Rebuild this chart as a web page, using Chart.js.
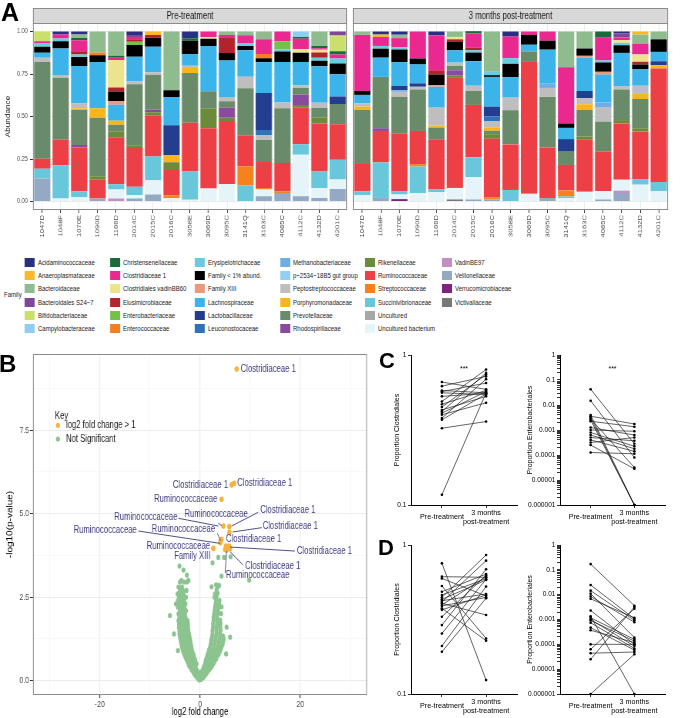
<!DOCTYPE html>
<html>
<head>
<meta charset="utf-8">
<title>Gut microbiota before and after treatment</title>
<script src="https://cdn.jsdelivr.net/npm/chart.js@4.4.1/dist/chart.umd.min.js"></script>
<style>
  html, body { margin: 0; padding: 0; background: #fff; }
  body { position: relative; width: 681px; height: 718px; overflow: hidden;
         font-family: "Liberation Sans", Arial, sans-serif; color: #000; }
  canvas { position: absolute; }
  .tag { position: absolute; font-weight: bold; line-height: 1; }
  #legend { position: absolute; left: 0; top: 250px; width: 885px; height: 90px;
            transform: scaleX(0.77); transform-origin: 0 0; }
  #legend div { position: absolute; white-space: nowrap; }
  .key-name { font-size: 7.8px; line-height: 9px; color: #1a1a1a; }
</style>
</head>
<body>
<canvas id="preChart"></canvas>
<canvas id="postChart"></canvas>
<div id="legend"></div>
<canvas id="volcanoChart"></canvas>
<canvas id="cloC"></canvas>
<canvas id="entC"></canvas>
<canvas id="cloD"></canvas>
<canvas id="entD"></canvas>
<div class="tag" style="left:1px;top:0px;font-size:25px">A</div>
<div class="tag" style="left:-1px;top:352px;font-size:24px">B</div>
<div class="tag" style="left:379px;top:350px;font-size:22px">C</div>
<div class="tag" style="left:378px;top:537px;font-size:22px">D</div>
<script>
"use strict";

// panels A and B of the original are squeezed horizontally
const SX = 0.77;

const samples = ["1047D", "1048F", "1070E", "1090D", "1166D", "2014C", "2015C", "2016C", "3058E",
  "3069D", "3095C", "3141Q", "3163C", "4085C", "4112C", "4132D", "4201C"];
const panelTitles = ["Pre-treatment", "3 months post-treatment"];

const families = ["Acidaminococcaceae", "Anaeroplasmataceae", "Bacteroidaceae", "Bacteroidales S24\u22127",
  "Bifidobacteriaceae", "Campylobacteraceae", "Christensenellaceae", "Clostridiaceae 1",
  "Clostridiales vadinBB60", "Elusimicrobiaceae", "Enterobacteriaceae", "Enterococcaceae",
  "Erysipelotrichaceae", "Family < 1% abund.", "Family XIII", "Lachnospiraceae",
  "Lactobacillaceae", "Leuconostocaceae", "Methanobacteriaceae", "p\u22122534\u221218B5 gut group",
  "Peptostreptococcaceae", "Porphyromonadaceae", "Prevotellaceae", "Rhodospirillaceae",
  "Rikenellaceae", "Ruminococcaceae", "Streptococcaceae", "Succinivibrionaceae",
  "Uncultured", "Uncultured bacterium", "VadinBE97", "Veillonellaceae",
  "Verrucomicrobiaceae", "Victivallaceae"];
const familyKeys = ["Acid", "Anae", "Bact", "S247", "Bifi", "Camp", "Chri", "Clo1", "CvBB", "Elus",
  "Entb", "Entc", "Erys", "F1pc", "FXIII", "Lach", "Lact", "Leuc", "Meth", "p253", "Pept", "Porp",
  "Prev", "Rhod", "Rike", "Rumi", "Stre", "Succ", "Uncu", "UnBa", "VBE9", "Veil", "Verr", "Vict"];
const familyColours = ["#2b2f83", "#fbb829", "#8fbc8f", "#7e479a", "#cbdf6c", "#8fcdf1", "#1b6a3a",
  "#e9298f", "#ece48c", "#b3232b", "#74c04b", "#f47e22", "#67cce0", "#000000", "#ea9a7b", "#3cb4ea",
  "#233d8f", "#2e73b9", "#6faee4", "#92d0f3", "#bebebe", "#fbb41a", "#698b69", "#8a4b9e", "#6c8b3a",
  "#ed3f46", "#f5821f", "#68c7da", "#a7a7a7", "#e5f4f8", "#c48fc3", "#93a9c4", "#7e2381", "#787878"];

const abundanceTicks = [0, 0.25, 0.5, 0.75, 1];
const abundanceMinor = [0.125, 0.375, 0.625, 0.875];

// relative abundance per sample, one record per bar
const preTreatment = [
  { Veil: .135, Succ: .058, Rumi: .058, Prev: .57, Pept: .024, Lach: .03, F1pc: .035, Erys: .02, Clo1: .012, Bifi: .058 },
  { UnBa: .018, Succ: .195, Rumi: .15, Prev: .365, Pept: .016, Lach: .156, F1pc: .043, Erys: .016, Clo1: .023, Acid: .018 },
  { UnBa: .027, Succ: .033, Rumi: .257, Rhod: .016, Prev: .205, Porp: .01, Pept: .029, Lach: .22, F1pc: .053, Erys: .014, Elus: .02, Clo1: .064, Chri: .014, Bact: .02, Acid: .018 },
  { Veil: .018, Rumi: .11, Rike: .02, Prev: .345, Porp: .055, Lach: .273, F1pc: .039, Entc: .016, Bact: .124 },
  { VBE9: .018, UnBa: .053, Succ: .03, Rumi: .277, Rike: .035, Prev: .039, Porp: .023, Lach: .094, FXIII: .02, F1pc: .058, Elus: .023, CvBB: .162, Clo1: .014, Chri: .012, Bact: .142 },
  { Veil: .018, UnBa: .02, Succ: .049, Rumi: .228, Rike: .016, Prev: .359, Pept: .016, Lach: .146, F1pc: .068, Entb: .02, Elus: .014, Clo1: .014, S247: .012, Acid: .02 },
  { Veil: .041, UnBa: .084, Succ: .14, Rumi: .24, Rike: .02, Rhod: .014, Prev: .205, Pept: .016, Lach: .15, F1pc: .053, Elus: .016, Anae: .021 },
  { UnBa: .02, Stre: .016, Rumi: .15, Rike: .045, Porp: .043, Lact: .175, Lach: .166, F1pc: .039, Bact: .346 },
  { UnBa: .01, Succ: .166, Rumi: .287, Prev: .293, Porp: .03, Pept: .012, Lach: .07, F1pc: .078, Chri: .014, Acid: .04 },
  { UnBa: .076, Rumi: .355, Rike: .117, Prev: .101, Lach: .265, F1pc: .043, CvBB: .01, Clo1: .033 },
  { UnBa: .103, Rumi: .37, Rike: .02, Rhod: .058, Prev: .039, Pept: .025, Lach: .214, F1pc: .045, Elus: .092, Clo1: .014, Bact: .02 },
  { Succ: .094, Stre: .113, Rumi: .18, Prev: .279, Pept: .068, Lach: .156, F1pc: .025, Erys: .014, Clo1: .049, Bact: .022 },
  { Veil: .031, UnBa: .039, Stre: .01, Rumi: .152, Prev: .13, Pept: .029, Leuc: .029, Lact: .218, Lach: .181, F1pc: .023, Entc: .025, Clo1: .088, Bact: .045 },
  { Veil: .05, Stre: .01, Rumi: .166, Prev: .322, Pept: .035, Lach: .238, F1pc: .062, Erys: .012, Entb: .047, Clo1: .058 },
  { Veil: .031, UnBa: .244, Succ: .062, Rumi: .214, Rike: .016, Rhod: .062, Prev: .039, Pept: .016, Lach: .136, F1pc: .055, CvBB: .02, Clo1: .062, Chri: .01, Camp: .033 },
  { Veil: .021, UnBa: .058, Succ: .097, Rumi: .283, Rike: .033, Prev: .058, Pept: .031, Lach: .214, F1pc: .033, Erys: .018, Elus: .031, CvBB: .016, Clo1: .009, Chri: .012, Bact: .086 },
  { Veil: .074, UnBa: .055, Succ: .117, Rumi: .209, Prev: .119, Lact: .043, Lach: .131, F1pc: .064, Erys: .029, Clo1: .023, Chri: .02, Bifi: .093, S247: .023 },
];
const postTreatment = [
  { UnBa: .037, Succ: .023, Rumi: .166, Prev: .312, Porp: .02, Pept: .02, Lach: .049, F1pc: .023, Clo1: .33, Bact: .02 },
  { Veil: .021, Succ: .209, Rumi: .185, Rhod: .016, Prev: .302, Lach: .113, F1pc: .053, Erys: .016, Clo1: .053, Anae: .014, Acid: .018 },
  { Verr: .014, UnBa: .027, Succ: .02, Rumi: .341, Prev: .214, Pept: .029, Meth: .01, Lact: .025, Lach: .14, F1pc: .074, Erys: .014, Clo1: .053, Bact: .02, Acid: .019 },
  { UnBa: .05, Succ: .156, Stre: .014, Rumi: .195, Prev: .244, Pept: .016, Lact: .02, Lach: .111, F1pc: .035, Clo1: .159 },
  { UnBa: .055, Succ: .016, Rumi: .292, Prev: .072, Porp: .012, Pept: .105, Lach: .123, FXIII: .01, F1pc: .062, Elus: .025, Clo1: .205, Acid: .023 },
  { Vict: .012, UnBa: .068, Rumi: .647, Rike: .016, Rhod: .029, Prev: .025, Pept: .02, Lach: .072, F1pc: .049, Elus: .016, CvBB: .014, Bact: .032 },
  { Veil: .012, UnBa: .131, Succ: .117, Rumi: .308, Prev: .082, Pept: .031, Lach: .144, F1pc: .051, Erys: .014, Elus: .014, Clo1: .084, Chri: .014 },
  { Veil: .012, Stre: .014, Rumi: .343, Rike: .027, Prev: .02, Porp: .02, Pept: .035, Leuc: .029, Lact: .058, Lach: .175, F1pc: .01, Erys: .02, Bact: .237 },
  { Succ: .068, Rumi: .268, Prev: .201, Pept: .074, Lach: .121, F1pc: .078, Erys: .033, Clo1: .127, Acid: .03 },
  { UnBa: .045, Rumi: .776, Prev: .062, Lach: .039, F1pc: .058, Clo1: .02 },
  { Veil: .021, Rumi: .296, Prev: .298, Pept: .053, Meth: .025, Lach: .2, F1pc: .053, Clo1: .054 },
  { UnBa: .02, Succ: .01, Stre: .035, Rumi: .15, Prev: .078, Lact: .074, Lach: .066, F1pc: .025, Clo1: .331, Bact: .211 },
  { UnBa: .057, Rumi: .306, Rike: .02, Prev: .156, Porp: .033, Pept: .035, Lact: .043, Lach: .197, FXIII: .01, F1pc: .043, Bact: .1 },
  { Veil: .012, UnBa: .049, Rumi: .234, Prev: .175, Pept: .082, Meth: .031, Lach: .164, FXIII: .016, F1pc: .055, Erys: .012, Clo1: .137, Chri: .033 },
  { Veil: .05, VBE9: .014, UnBa: .064, Rumi: .331, Rike: .02, Prev: .18, Pept: .02, Lach: .195, F1pc: .045, Erys: .014, CvBB: .016, Clo1: .016, S247: .023, Acid: .012 },
  { UnBa: .099, Succ: .033, Rumi: .279, Rike: .02, Prev: .172, Porp: .029, Pept: .049, Lach: .096, F1pc: .029, Elus: .016, CvBB: .043, Clo1: .064, Bact: .053, Anae: .018 },
  { UnBa: .06, Succ: .055, Rumi: .667, Porp: .02, Lact: .023, Lach: .055, F1pc: .074, Bact: .046 },
];

// volcano plot (B)
const volcanoXTicks = [-30, -20, -10, 0, 10, 20, 30];
const volcanoXLabelled = [-20, 0, 20];
const volcanoYTicks = [0, 1.25, 2.5, 3.75, 5, 6.25, 7.5, 8.75];
const volcanoYLabelled = [0, 2.5, 5, 7.5];
const volcanoKey = ["log2 fold change > 1", "Not Significant"];
const volcanoColours = ["#f6b23b", "#8bc48e"];
const significant = [[7.3, 9.33], [6.3, 5.86], [6.8, 5.91], [4.3, 5.43], [4.65, 4.63], [5.85, 4.61],
  [5.85, 4.44], [4.3, 4.23], [4.1, 4.19], [4.05, 4.13], [2.65, 3.96], [5.2, 4.03], [5.5, 3.99],
  [5.8, 4.03], [5.0, 3.93], [5.3, 3.91], [6.0, 3.95]];
const notSignificant = [
  [0, 0.03], [-0.2, 0.03], [0.2, 0.04],
  [-0.5, 0.08], [-0.1, 0.08], [0.3, 0.08], [0.6, 0.09],
  [-0.8, 0.13], [-0.4, 0.13], [0.1, 0.13], [0.5, 0.13], [0.9, 0.14],
  [-1.1, 0.19], [-0.6, 0.19], [-0.2, 0.19], [0.3, 0.19], [0.8, 0.19], [1.2, 0.2],
  [-1.3, 0.25], [-0.9, 0.25], [-0.4, 0.25], [0.2, 0.25], [0.6, 0.25], [1.1, 0.25], [1.5, 0.26],
  [-1.6, 0.31], [-1.1, 0.31], [-0.6, 0.31], [0.5, 0.31], [0.9, 0.31], [1.4, 0.31], [1.8, 0.32],
  [-1.8, 0.37], [-1.3, 0.37], [-0.8, 0.37], [0.7, 0.37], [1.2, 0.37], [1.7, 0.37], [2.1, 0.38],
  [-2.1, 0.43], [-1.6, 0.43], [-1.0, 0.43], [0.8, 0.43], [1.4, 0.43], [1.9, 0.43], [2.4, 0.44],
  [-2.3, 0.5], [-1.8, 0.5], [-1.2, 0.5], [-0.7, 0.5], [1.0, 0.5], [1.6, 0.5], [2.2, 0.5], [2.7, 0.51],
  [-2.5, 0.57], [-2.0, 0.57], [-1.4, 0.57], [-0.9, 0.57], [1.1, 0.57], [1.8, 0.57], [2.4, 0.57], [2.9, 0.58],
  [-2.7, 0.64], [-2.2, 0.64], [-1.6, 0.64], [-1.0, 0.64], [1.2, 0.64], [1.9, 0.64], [2.6, 0.64], [3.2, 0.65],
  [-2.9, 0.71], [-2.4, 0.71], [-1.8, 0.71], [-1.2, 0.71], [1.4, 0.71], [2.1, 0.71], [2.8, 0.71], [3.4, 0.72],
  [-3.1, 0.78], [-2.5, 0.78], [-1.9, 0.78], [-1.3, 0.78], [1.5, 0.78], [2.3, 0.78], [3.0, 0.78], [3.7, 0.79],
  [-3.3, 0.85], [-2.7, 0.85], [-2.1, 0.85], [-1.5, 0.85], [1.7, 0.85], [2.5, 0.85], [3.2, 0.85], [3.9, 0.86],
  [-3.4, 0.92], [-2.8, 0.92], [-2.2, 0.92], [-1.6, 0.92], [1.8, 0.92], [2.6, 0.92], [3.4, 0.92], [4.1, 0.93],
  [-3.6, 1.0], [-3.0, 1.0], [-2.4, 1.0], [-1.7, 1.0], [2.0, 1.0], [2.8, 1.0], [3.6, 1.0], [4.3, 1.01],
  [-3.7, 1.08], [-3.1, 1.08], [-2.5, 1.08], [-1.8, 1.08], [2.1, 1.08], [2.9, 1.08], [3.7, 1.08], [4.5, 1.09],
  [-3.8, 1.16], [-3.2, 1.16], [-2.6, 1.16], [-1.9, 1.16], [2.2, 1.16], [3.0, 1.16], [3.8, 1.16], [4.6, 1.17],
  [-3.9, 1.24], [-3.3, 1.24], [-2.6, 1.24], [-2.0, 1.24], [2.3, 1.24], [3.1, 1.24], [3.9, 1.24], [4.7, 1.25],
  [-4.0, 1.32], [-3.4, 1.32], [-2.7, 1.32], [-2.1, 1.32], [2.4, 1.32], [3.2, 1.32], [4.0, 1.32], [4.6, 1.33],
  [-4.1, 1.4], [-3.4, 1.4], [-2.8, 1.4], [-2.2, 1.4], [2.5, 1.4], [3.3, 1.4], [4.0, 1.41],
  [-4.1, 1.5], [-3.5, 1.5], [-2.9, 1.5], [-2.3, 1.5], [2.5, 1.5], [3.3, 1.5], [4.1, 1.51],
  [-4.2, 1.6], [-3.5, 1.6], [-2.9, 1.6], [-2.4, 1.6], [2.6, 1.6], [3.3, 1.6], [4.0, 1.61],
  [-4.2, 1.7], [-3.6, 1.7], [-3.0, 1.7], [-2.4, 1.7], [2.6, 1.7], [3.4, 1.7], [4.1, 1.71],
  [-4.3, 1.8], [-3.6, 1.8], [-3.0, 1.8], [-2.5, 1.8], [2.7, 1.8], [3.4, 1.8], [4.0, 1.81],
  [-4.1, 1.9], [-3.5, 1.9], [-2.9, 1.9], [2.7, 1.9], [3.4, 1.9],
  [-4.3, 2.0], [-3.6, 2.0], [-3.0, 2.0], [2.8, 2.0], [3.5, 2.0], [4.2, 2.01],
  [-4.0, 2.1], [-3.4, 2.1], [-2.8, 2.1], [2.9, 2.1], [3.6, 2.1],
  [-4.4, 2.2], [-3.7, 2.2], [-3.1, 2.2], [3.0, 2.2], [3.7, 2.2], [4.3, 2.21],
  [-4.1, 2.3], [-3.4, 2.3], [-2.9, 2.3], [3.1, 2.3], [3.8, 2.3],
  [-4.4, 2.4], [-3.8, 2.4], [-3.2, 2.4], [3.2, 2.4], [3.9, 2.4],
  [-4.2, 2.5], [-3.6, 2.5], [-2.8, 2.5], [2.9, 2.5], [3.3, 2.52],
  [-4.5, 2.6], [-3.9, 2.6], [-3.3, 2.6], [3.0, 2.6], [3.5, 2.62],
  [-4.0, 2.7], [-3.4, 2.7], [-2.7, 2.7], [3.3, 2.72],
  [-4.3, 2.8], [-3.6, 2.8], [3.5, 2.8], [2.3, 2.81], [3.2, 2.87],
  [-4.0, 2.95], [-3.2, 2.95], [-2.6, 2.95], [-3.7, 3.0], [-2.3, 3.0],
  [-4.1, 3.43], [-3.3, 3.31], [-2.65, 3.16], [-6.0, 1.95], [-5.2, 1.4], [-4.8, 2.3],
  [5.3, 1.6], [6.0, 1.3], [5.2, 0.8], [-4.4, 0.9], [3.8, 2.85],
  [3.65, 3.69], [4.8, 3.69], [6.1, 3.71], [2.5, 3.53], [4.3, 3.13], [9.8, 3.01],
];
const volcanoLabels = [
  { text: "Clostridiaceae 1", x: 8.1, y: 9.33, align: "left" },
  { text: "Clostridiaceae 1", x: 5.6, y: 5.84, align: "right" },
  { text: "Clostridiaceae 1", x: 7.4, y: 5.91, align: "left" },
  { text: "Ruminococcaceae", x: 3.45, y: 5.43, align: "right" },
  { text: "Ruminococcaceae", x: -4.5, y: 4.89, align: "right", line: [-4.3, 4.86, 3.65, 4.63] },
  { text: "Ruminococcaceae", x: 3.2, y: 4.99, align: "center", line: [3.6, 4.72, 4.3, 4.64] },
  { text: "Clostridiaceae 1", x: 12.0, y: 5.09, align: "left", line: [11.6, 5.04, 6.3, 4.63] },
  { text: "Clostridiaceae 1", x: 12.5, y: 4.61, align: "left", line: [12.3, 4.58, 6.5, 4.45] },
  { text: "Ruminococcaceae", x: -12.6, y: 4.51, align: "right", line: [-12.3, 4.48, 4.0, 4.11] },
  { text: "Ruminococcaceae", x: 3.0, y: 4.53, align: "right", line: [3.45, 4.41, 4.1, 4.19] },
  { text: "Clostridiaceae 1", x: 5.2, y: 4.23, align: "left" },
  { text: "Ruminococcaceae", x: 2.0, y: 4.02, align: "right" },
  { text: "Clostridiaceae 1", x: 19.3, y: 3.86, align: "left", line: [18.9, 3.88, 6.0, 4.0] },
  { text: "Family XIII", x: 2.1, y: 3.73, align: "right" },
  { text: "Clostridiaceae 1", x: 9.0, y: 3.41, align: "left", line: [8.6, 3.46, 6.0, 3.86] },
  { text: "Ruminococcaceae", x: 5.2, y: 3.16, align: "left", line: [5.0, 3.22, 5.3, 3.88] },
];

// paired plots (C, D)
const pairLabels = ["Pre-treatment", ["3 months", "post-treatment"]];
const cloTicks = [0.1, 1];
const cloTickLabels = ["0.1", "1"];
const enteroTicks = [1e-6, 1e-5, 1e-4, 1e-3, 1e-2, 1e-1, 1];
const enteroTickLabels = ["0.000001", "0.00001", "0.0001", "0.001", "0.01", "0.1", "1"];

const clostridialesPreC = [0.66, 0.62, 0.58, 0.57, 0.56, 0.53, 0.49, 0.47, 0.45, 0.43, 0.42, 0.41, 0.40, 0.38, 0.37, 0.325, 0.117];
const clostridialesPostC = [0.59, 0.72, 0.56, 0.65, 0.545, 0.555, 0.80, 0.58, 0.74, 0.53, 0.76, 0.57, 0.48, 0.69, 0.55, 0.36, 0.56];
const enteroPreC = [0.0427, 0.0148, 0.00398, 0.00355, 0.00316, 0.00282, 0.00251, 0.00224, 0.00126, 0.001,
  0.00079, 0.00063, 0.0005, 0.0004, 0.000316, 0.00025, 0.000126];
const enteroPostC = [0.00028, 0.000079, 0.000001, 0.00174, 0.000001, 0.0000316, 0.000001, 0.00135, 0.00063,
  0.00089, 0.000224, 0.000178, 0.00037, 0.00014, 0.0005, 0.000028, 0.000112];
const clostridialesPreD = [0.753, 0.613, 0.597, 0.531, 0.486, 0.462, 0.445, 0.432, 0.423, 0.414, 0.406,
  0.396, 0.39, 0.376, 0.367, 0.33, 0.29, 0.255, 0.21, 0.192];
const clostridialesPostD = [0.124, 0.607, 0.455, 0.236, 0.638, 0.594, 0.857, 0.582, 0.469, 0.785, 0.339,
  0.613, 0.445, 0.228, 0.462, 0.626, 0.687, 0.588, 0.526, 0.439];
const enteroPreD = [0.17, 0.0245, 0.0145, 0.011, 0.0085, 0.0068, 0.0023, 0.00135, 0.00117, 0.001, 0.00091,
  0.00074, 0.00047, 0.00037, 0.0001, 0.000063, 0.000044, 0.000025, 0.000001];
const enteroPostD = [0.0036, 0.00107, 0.00093, 0.000186, 0.00078, 0.00117, 0.0001, 0.000001, 0.000158,
  0.000085, 0.000135, 0.000068, 0.000059, 0.000117, 0.0001, 0.0027, 0.000049, 0.0032, 0.00004];

const FONT = '"Liberation Sans", Arial, sans-serif';
Chart.defaults.animation = false;
Chart.defaults.responsive = false;
Chart.defaults.font.family = FONT;
Chart.defaults.plugins.legend.display = false;
Chart.defaults.plugins.tooltip.enabled = false;

// canvas drawn at width/sx and shown at width, so squeezed panels keep their look
function placeCanvas(id, left, top, width, height, sx) {
  const c = document.getElementById(id);
  c.width = Math.round(width / sx);
  c.height = height;
  c.style.left = left + "px";
  c.style.top = top + "px";
  c.style.width = (c.width * sx) + "px";
  c.style.height = height + "px";
  return c;
}

const facetPanel = {
  id: "facetPanel",
  afterDraw(chart, args, opts) {
    const { ctx, chartArea: a } = chart;
    ctx.save();
    ctx.lineWidth = 1;
    ctx.strokeStyle = "#8c8c8c";
    ctx.fillStyle = "#d9d9d9";
    ctx.fillRect(a.left, a.top - 15, a.right - a.left, 15);
    ctx.strokeRect(a.left + 0.5, a.top - 14.5, a.right - a.left - 1, 15);
    ctx.strokeRect(a.left + 0.5, a.top + 0.5, a.right - a.left - 1, a.bottom - a.top - 1);
    ctx.fillStyle = "#1a1a1a";
    ctx.font = "10px " + FONT;
    ctx.textAlign = "center";
    ctx.textBaseline = "middle";
    ctx.fillText(opts.text, (a.left + a.right) / 2, a.top - 7);
    ctx.restore();
  },
};

function abundanceChart(id, composition, title, box) {
  const canvas = placeCanvas(id, box.left, 0, box.width, 245, SX);
  const datasets = families.map((name, i) => ({
    label: name,
    data: composition.map((s) => s[familyKeys[i]] || 0),
    backgroundColor: familyColours[i],
    borderWidth: 0,
    barPercentage: 0.88,
    categoryPercentage: 1,
  })).reverse();
  const isMajor = (v) => abundanceTicks.includes(v);
  return new Chart(canvas, {
    type: "bar",
    data: { labels: samples, datasets },
    plugins: [facetPanel],
    options: {
      devicePixelRatio: 1,
      layout: { padding: { top: 23, right: box.padRight, left: 0, bottom: 0 } },
      plugins: { facetPanel: { text: title } },
      scales: {
        x: {
          stacked: true,
          border: { display: false },
          grid: { offset: false, color: "#ebebeb", lineWidth: 1, tickLength: 3, tickColor: "#333" },
          ticks: { autoSkip: false, minRotation: 90, maxRotation: 90, padding: 2, color: "#4d4d4d", font: { size: 7.6 } },
          afterFit: (s) => { s.height = 35; },
        },
        y: {
          stacked: true,
          min: -0.05,
          max: 1.05,
          border: { display: false },
          afterBuildTicks: (s) => {
            s.ticks = abundanceTicks.concat(abundanceMinor).sort((a, b) => a - b).map((v) => ({ value: v }));
          },
          grid: {
            color: (c) => (c.tick && isMajor(c.tick.value) ? "#ebebeb" : "#f4f4f4"),
            lineWidth: (c) => (c.tick && isMajor(c.tick.value) ? 1 : 0.6),
            drawTicks: box.showAxis,
            tickLength: 3 / SX,
            tickColor: (c) => (c.tick && isMajor(c.tick.value) ? "#333" : "rgba(0,0,0,0)"),
          },
          ticks: {
            display: box.showAxis,
            autoSkip: false,
            padding: 3,
            color: "#4d4d4d",
            font: { size: 7.2 },
            callback: (v) => (isMajor(v) ? v.toFixed(2) : ""),
          },
          title: {
            display: box.showAxis,
            text: "Abundance",
            color: "#1a1a1a",
            font: { size: 8.2 },
            padding: { top: 5.5, bottom: 0 },
          },
          afterFit: (s) => { s.width = box.axisWidth; },
        },
      },
    },
  });
}

abundanceChart("preChart", preTreatment, panelTitles[0],
  { left: 0, width: 350, padRight: 3 / SX, axisWidth: 33 / SX, showAxis: true });
abundanceChart("postChart", postTreatment, panelTitles[1],
  { left: 350, width: 331, padRight: 13 / SX, axisWidth: 3 / SX, showAxis: false });

// legend of panel A, laid out in columns like the original
const legendColumns = [25, 110, 195, 280, 365, 442];
const legendBox = document.getElementById("legend");
const familyTitle = document.createElement("div");
familyTitle.className = "key-name";
familyTitle.style.left = (4 / SX) + "px";
familyTitle.style.top = "40px";
familyTitle.textContent = "Family";
legendBox.appendChild(familyTitle);
families.forEach((name, i) => {
  const left = legendColumns[Math.floor(i / 6)] / SX;
  const top = 8 + (i % 6) * 13.2;
  const swatch = document.createElement("div");
  swatch.style.cssText = `left:${left}px;top:${top}px;width:${10 / SX}px;height:9px;background:${familyColours[i]}`;
  const label = document.createElement("div");
  label.className = "key-name";
  label.style.left = (left + 13 / SX) + "px";
  label.style.top = top + "px";
  label.textContent = name;
  legendBox.appendChild(swatch);
  legendBox.appendChild(label);
});

// panel B
const volcanoNotes = {
  id: "volcanoNotes",
  afterDatasetsDraw(chart) {
    const { ctx, chartArea: a, scales: { x, y } } = chart;
    ctx.save();
    ctx.strokeStyle = "#8c8c8c";
    ctx.lineWidth = 1;
    ctx.strokeRect(a.left + 0.5, a.top + 0.5, a.right - a.left - 1, a.bottom - a.top - 1);
    ctx.strokeStyle = "#3d3b7d";
    ctx.fillStyle = "#3d3b7d";
    ctx.lineWidth = 0.9;
    ctx.font = "10px " + FONT;
    ctx.textBaseline = "middle";
    volcanoLabels.forEach((l) => {
      if (l.line) {
        ctx.beginPath();
        ctx.moveTo(x.getPixelForValue(l.line[0]), y.getPixelForValue(l.line[1]));
        ctx.lineTo(x.getPixelForValue(l.line[2]), y.getPixelForValue(l.line[3]));
        ctx.stroke();
      }
      ctx.textAlign = l.align;
      ctx.fillText(l.text, x.getPixelForValue(l.x), y.getPixelForValue(l.y));
    });
    ctx.fillStyle = "#1a1a1a";
    ctx.textAlign = "left";
    ctx.fillText("Key", a.left + 28.5, a.top + 62);
    volcanoKey.forEach((k, i) => {
      const cy = a.top + 71.3 + i * 13.7;
      ctx.fillStyle = volcanoColours[i];
      ctx.beginPath();
      ctx.arc(a.left + 32.4, cy, 2.6, 0, Math.PI * 2);
      ctx.fill();
      ctx.fillStyle = "#1a1a1a";
      ctx.fillText(k, a.left + 42.8, cy);
    });
    ctx.restore();
  },
};

const volcanoCanvas = placeCanvas("volcanoChart", 0, 340, 395, 378, SX);
new Chart(volcanoCanvas, {
  type: "scatter",
  data: {
    datasets: [
      { label: volcanoKey[0], data: significant.map(([x, y]) => ({ x, y })), backgroundColor: volcanoColours[0], pointRadius: 2.8, borderWidth: 0 },
      { label: volcanoKey[1], data: notSignificant.map(([x, y]) => ({ x, y })), backgroundColor: volcanoColours[1], pointRadius: 2.6, borderWidth: 0 },
    ],
  },
  plugins: [volcanoNotes],
  options: {
    devicePixelRatio: 1,
    layout: { padding: { top: 14, right: 28 / SX, left: 0, bottom: 0 } },
    scales: {
      x: {
        type: "linear",
        min: -33.3,
        max: 33.3,
        border: { display: false },
        afterBuildTicks: (s) => { s.ticks = volcanoXTicks.map((v) => ({ value: v })); },
        grid: {
          color: (c) => (c.tick && volcanoXLabelled.includes(c.tick.value) ? "#ebebeb" : "#f4f4f4"),
          lineWidth: (c) => (c.tick && volcanoXLabelled.includes(c.tick.value) ? 1.2 : 0.8),
          tickLength: 3,
          tickColor: (c) => (c.tick && volcanoXLabelled.includes(c.tick.value) ? "#333" : "rgba(0,0,0,0)"),
        },
        ticks: {
          autoSkip: false, maxRotation: 0, padding: 1, color: "#4d4d4d", font: { size: 9.2 },
          callback: (v) => (volcanoXLabelled.includes(v) ? String(v) : ""),
        },
        title: { display: true, text: "log2 fold change", color: "#000", font: { size: 10 }, padding: { top: 0, bottom: 0 } },
        afterFit: (s) => { s.height = 23; },
      },
      y: {
        min: -0.43,
        max: 9.78,
        border: { display: false },
        afterBuildTicks: (s) => { s.ticks = volcanoYTicks.map((v) => ({ value: v })); },
        grid: {
          color: (c) => (c.tick && volcanoYLabelled.includes(c.tick.value) ? "#ebebeb" : "#f4f4f4"),
          lineWidth: (c) => (c.tick && volcanoYLabelled.includes(c.tick.value) ? 1 : 0.6),
          tickLength: 3 / SX,
          tickColor: (c) => (c.tick && volcanoYLabelled.includes(c.tick.value) ? "#333" : "rgba(0,0,0,0)"),
        },
        ticks: {
          autoSkip: false, padding: 1, color: "#4d4d4d", font: { size: 9.2 },
          callback: (v) => (volcanoYLabelled.includes(v) ? v.toFixed(1) : ""),
        },
        title: { display: true, text: "-log10(p-value)", color: "#000", font: { size: 10 }, padding: { top: 7, bottom: 0 } },
        afterFit: (s) => { s.width = 33 / SX; },
      },
    },
  },
});

// panels C and D
const pairMark = {
  id: "pairMark",
  afterDraw(chart, args, opts) {
    if (!opts.text) return;
    const { ctx, chartArea: a, scales: { x } } = chart;
    ctx.save();
    ctx.fillStyle = "#000";
    ctx.font = "7px " + FONT;
    ctx.textAlign = "center";
    ctx.textBaseline = "middle";
    ctx.fillText(opts.text, x.getPixelForValue(0.5), a.top + 14);
    ctx.restore();
  },
};

function withMinorTicks(majors) {
  const out = majors.slice();
  majors.slice(0, -1).forEach((m) => { for (let k = 2; k <= 9; k++) out.push(m * k); });
  return out.sort((a, b) => a - b);
}

function pairedChart(id, box, pre, post, ticks, tickLabels, minor, yTitle, mark) {
  const canvas = placeCanvas(id, box.left, box.top, box.width, box.height, 1);
  const allTicks = minor ? withMinorTicks(ticks) : ticks.slice();
  return new Chart(canvas, {
    type: "line",
    data: {
      datasets: pre.map((p, i) => ({
        data: [{ x: 0, y: p }, { x: 1, y: post[i] }],
        borderColor: "#222",
        borderWidth: 0.7,
        pointRadius: 1.3,
        pointBackgroundColor: "#000",
        pointBorderWidth: 0,
        clip: false,
      })),
    },
    plugins: [pairMark],
    options: {
      devicePixelRatio: 1,
      layout: { padding: { top: 15, right: box.padRight, left: 0, bottom: 0 } },
      plugins: { pairMark: { text: mark } },
      scales: {
        x: {
          type: "linear",
          min: -0.7,
          max: 1.7,
          afterBuildTicks: (s) => { s.ticks = [{ value: 0 }, { value: 1 }]; },
          border: { color: "#000", width: 1 },
          grid: { drawOnChartArea: false, tickLength: 3, tickColor: "#000", tickWidth: 0.8 },
          ticks: {
            autoSkip: false, maxRotation: 0, crossAlign: "center", padding: 5, color: "#000", font: { size: 7.2 },
            callback: (v) => pairLabels[v],
          },
          afterFit: (s) => { s.height = box.axisHeight; },
        },
        y: {
          type: "logarithmic",
          min: ticks[0],
          max: ticks[ticks.length - 1],
          afterBuildTicks: (s) => { s.ticks = allTicks.map((v) => ({ value: v })); },
          border: { color: "#000", width: 1 },
          grid: { drawOnChartArea: false, tickLength: 3, tickColor: "#000", tickWidth: 0.8 },
          ticks: {
            autoSkip: false, padding: 1.5, color: "#000", font: { size: 6.6 },
            callback: (v) => { const i = ticks.indexOf(v); return i >= 0 ? tickLabels[i] : ""; },
          },
          title: { display: true, text: yTitle, color: "#000", font: { size: 7 }, padding: { top: box.titlePad, bottom: 0 } },
          afterFit: (s) => { s.width = box.axisWidth; },
        },
      },
    },
  });
}

pairedChart("cloC", { left: 390, top: 340, width: 140, height: 195, padRight: 13, axisWidth: 21, axisHeight: 30, titlePad: 2.8 },
  clostridialesPreC, clostridialesPostC, cloTicks, cloTickLabels, false, "Proportion Clostridiales", "***");
pairedChart("entC", { left: 520, top: 340, width: 161, height: 195, padRight: 16, axisWidth: 40, axisHeight: 30, titlePad: 5.8 },
  enteroPreC, enteroPostC, enteroTicks, enteroTickLabels, true, "Proportion Enterobacteriales", "***");
pairedChart("cloD", { left: 390, top: 530, width: 140, height: 188, padRight: 13, axisWidth: 21, axisHeight: 24, titlePad: 2.8 },
  clostridialesPreD, clostridialesPostD, cloTicks, cloTickLabels, false, "Proportion Clostridiales", "");
pairedChart("entD", { left: 520, top: 530, width: 161, height: 188, padRight: 16, axisWidth: 40, axisHeight: 24, titlePad: 5.8 },
  enteroPreD, enteroPostD, enteroTicks, enteroTickLabels, true, "Proportion Enterobacteriales", "");
</script>
</body>
</html>
